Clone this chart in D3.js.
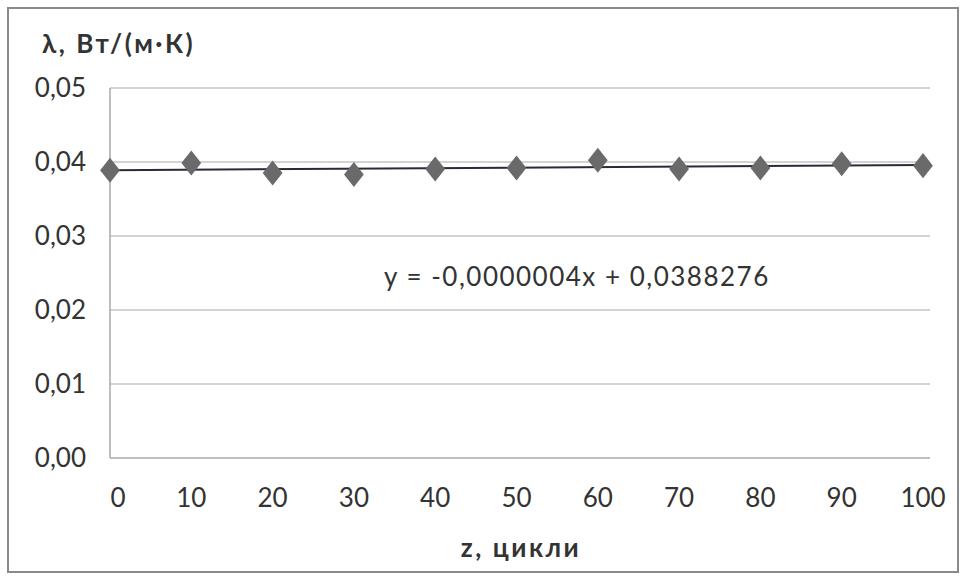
<!DOCTYPE html>
<html><head><meta charset="utf-8">
<script src="https://cdn.jsdelivr.net/npm/d3@7/dist/d3.min.js"></script>
<style>body{margin:0;background:#fff}svg{display:block}text{font-family:Lato,"Open Sans",sans-serif;fill:#333}</style>
</head><body><svg id="c" width="963" height="579"></svg>
<script>
const cycles = [0,10,20,30,40,50,60,70,80,90,100];
const lambda = [0.03888,0.03988,0.03853,0.03830,0.03907,0.03920,0.04023,0.03907,0.03920,0.03978,0.03951];
const yTicks = [0,0.01,0.02,0.03,0.04,0.05];
const xTicks = [0,10,20,30,40,50,60,70,80,90,100];
const yTitle = "λ, Вт/(м·К)";
const xTitle = "z, цикли";
const eqText = "y = -0,0000004x + 0,0388276";

const svg = d3.select("#c");
const x = d3.scaleLinear().domain([0,100]).range([110,923]);
const y = d3.scaleLinear().domain([0,0.05]).range([458,88]);
const fmt = d => d3.format(".2f")(d).replace(".", ",");

// outer border
svg.append("rect").attr("x",8).attr("y",8).attr("width",950).attr("height",564)
  .attr("fill","#fff").attr("stroke","#8a8a8a").attr("stroke-width",2);

// gridlines
svg.append("g").selectAll("line").data(yTicks.slice(1)).join("line")
  .attr("x1",x(0)).attr("x2",x(100)+7).attr("y1",d=>y(d)).attr("y2",d=>y(d))
  .attr("stroke","#c4c4c4").attr("stroke-width",1.5);

// axes lines
svg.append("line").attr("x1",x(0)).attr("x2",x(0)).attr("y1",y(0.05)).attr("y2",y(0))
  .attr("stroke","#a8a8a8").attr("stroke-width",1.5);
svg.append("line").attr("x1",x(0)).attr("x2",x(100)+7).attr("y1",y(0)).attr("y2",y(0))
  .attr("stroke","#a8a8a8").attr("stroke-width",1.5);

// y tick labels
svg.append("g").selectAll("text").data(yTicks).join("text")
  .attr("x",86).attr("y",d=>y(d)).attr("dy","0.35em").attr("text-anchor","end")
  .attr("font-size",26).text(fmt);

// x tick labels
svg.append("g").selectAll("text").data(xTicks).join("text")
  .attr("x",(d,i)=>x(d)+ (i===0?8:0)).attr("y",498).attr("dy","0.35em").attr("text-anchor","middle")
  .attr("font-size",26).text(d=>d);

// titles
svg.append("text").attr("x",42).attr("y",44).attr("dy","0.35em").attr("font-size",26)
  .attr("letter-spacing",2.5).attr("font-weight","bold").text(yTitle);
svg.append("text").attr("x",521).attr("y",548).attr("dy","0.35em").attr("text-anchor","middle")
  .attr("letter-spacing",2.5).attr("font-size",26).attr("font-weight","bold").text(xTitle);

// trendline (least squares)
const mx = d3.mean(cycles), my = d3.mean(lambda);
const slope = d3.sum(cycles.map((c,i)=>(c-mx)*(lambda[i]-my))) / d3.sum(cycles.map(c=>(c-mx)**2));
const icpt = my - slope*mx;
svg.append("line").attr("x1",x(0)).attr("x2",x(100)).attr("y1",y(icpt)).attr("y2",y(icpt+slope*100))
  .attr("stroke","#2a2a3a").attr("stroke-width",2);

// markers
const sym = d3.symbol().type(d3.symbolDiamond).size(200);
svg.append("g").selectAll("path").data(cycles).join("path")
  .attr("d",sym).attr("transform",(d,i)=>`translate(${x(d)},${y(lambda[i])}) scale(1.3,0.95)`)
  .attr("fill","#6a6a6a");

// equation
svg.append("text").attr("x",384).attr("y",277).attr("dy","0.35em").attr("font-size",26)
  .attr("letter-spacing",1.5).text(eqText);
</script></body></html>
